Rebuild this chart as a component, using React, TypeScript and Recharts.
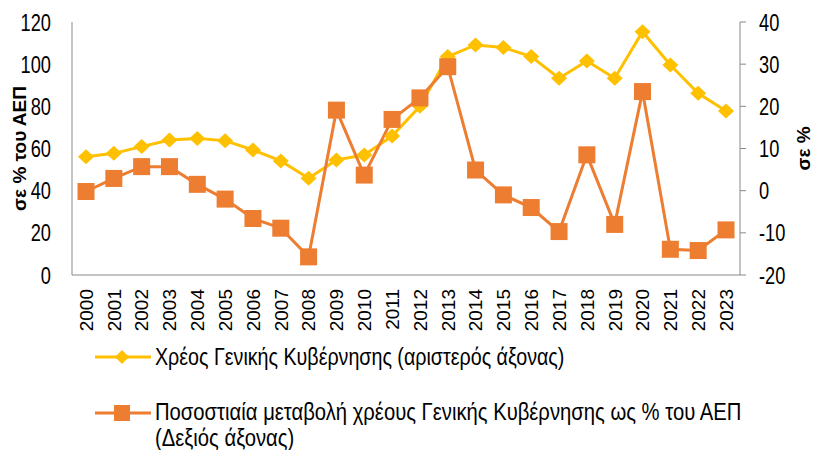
import * as React from "react"
import {
  LineChart,
  Line,
  XAxis,
  YAxis,
  Legend,
} from "recharts"

const years = [
  "2000", "2001", "2002", "2003", "2004", "2005", "2006", "2007",
  "2008", "2009", "2010", "2011", "2012", "2013", "2014", "2015",
  "2016", "2017", "2018", "2019", "2020", "2021", "2022", "2023",
]

// debt, % of GDP (left axis)
const debtRatio = [
  56.1, 57.7, 60.9, 64.0, 64.8, 63.7, 59.3, 54.1,
  45.9, 54.6, 56.9, 65.9, 80.0, 103.6, 109.1, 107.9,
  103.6, 93.3, 101.5, 93.3, 115.4, 99.6, 86.2, 77.8,
]

// % change of debt ratio (right axis)
const debtChange = [
  -0.2, 2.9, 5.7, 5.7, 1.5, -2.0, -6.6, -8.9,
  -15.7, 19.1, 3.7, 16.9, 22.0, 29.4, 4.9, -1.0,
  -4.0, -9.7, 8.5, -8.0, 23.5, -13.9, -14.2, -9.3,
]

const leftTicks = [0, 20, 40, 60, 80, 100, 120]
const rightTicks = [-20, -10, 0, 10, 20, 30, 40]

const seriesNames = [
  "Χρέος Γενικής Κυβέρνησης (αριστερός άξονας)",
  "Ποσοστιαία μεταβολή χρέους Γενικής Κυβέρνησης ως % του ΑΕΠ",
  "(Δεξιός άξονας)",
]

const YELLOW = "#FFC000"
const ORANGE = "#ED7D31"
const AXIS = "#898989"
const ARIAL = "'Liberation Sans', Arial, sans-serif"
// the original uses a condensed face; squeeze regular Arial to match
const SQUEEZE = 0.76

const data = years.map((year, i) => ({
  year,
  debt: debtRatio[i],
  change: debtChange[i],
}))

const Diamond = (props: any) => {
  const { cx, cy } = props
  if (cx == null || cy == null) return null
  const w = 8
  const h = 7.5
  return (
    <polygon
      points={`${cx},${cy - h} ${cx + w},${cy} ${cx},${cy + h} ${cx - w},${cy}`}
      fill={YELLOW}
    />
  )
}

const Square = (props: any) => {
  const { cx, cy } = props
  if (cx == null || cy == null) return null
  const s = 8.5
  return <rect x={cx - s} y={cy - s} width={s * 2} height={s * 2} fill={ORANGE} />
}

const YearTick = (props: any) => {
  const { x, y, payload } = props
  const ty = y + 6
  return (
    <text
      x={x}
      y={ty}
      dy="0.36em"
      transform={`rotate(-90, ${x}, ${ty})`}
      textAnchor="end"
      fontFamily={ARIAL}
      fontSize={19}
      fill="#000"
    >
      {payload.value}
    </text>
  )
}

const ValueTick = (props: any) => {
  const { x, y, payload, textAnchor } = props
  return (
    <text
      transform={`translate(${x}, ${y}) scale(${SQUEEZE}, 1)`}
      dy="0.36em"
      textAnchor={textAnchor}
      fontFamily={ARIAL}
      fontSize={24}
      fill="#000"
    >
      {payload.value}
    </text>
  )
}

const LeftTitle = (props: any) => {
  const { viewBox } = props
  const cx = viewBox.x - 3
  const cy = viewBox.y + viewBox.height / 2
  return (
    <text
      x={cx}
      y={cy}
      transform={`rotate(-90, ${cx}, ${cy})`}
      textAnchor="middle"
      dy="0.36em"
      fontFamily={ARIAL}
      fontWeight="bold"
      fontSize={19}
      fill="#000"
    >
      σε % του ΑΕΠ
    </text>
  )
}

const RightTitle = (props: any) => {
  const { viewBox } = props
  const cx = viewBox.x + viewBox.width + 13
  const cy = viewBox.y + viewBox.height / 2
  return (
    <text
      x={cx}
      y={cy}
      transform={`rotate(-90, ${cx}, ${cy})`}
      textAnchor="middle"
      dy="0.36em"
      fontFamily={ARIAL}
      fontWeight="bold"
      fontSize={19}
      fill="#000"
    >
      σε %
    </text>
  )
}

const LegendIcon = ({ color, square }: { color: string; square?: boolean }) => (
  <svg width={56} height={20} style={{ flex: "none" }}>
    <line x1={0} y1={10} x2={56} y2={10} stroke={color} strokeWidth={3} />
    {square ? (
      <rect x={19} y={2} width={16} height={16} fill={color} />
    ) : (
      <polygon points="27,3 34,10 27,17 20,10" fill={color} />
    )}
  </svg>
)

const squeezed = (k: number): React.CSSProperties => ({
  marginLeft: 4,
  transform: `scaleX(${k})`,
  transformOrigin: "left center",
  whiteSpace: "nowrap",
})

const renderLegend = () => (
  <div style={{ fontFamily: ARIAL, fontSize: 23, color: "#000", lineHeight: "26px" }}>
    <div style={{ display: "flex", alignItems: "center", height: 26 }}>
      <LegendIcon color={YELLOW} />
      <span style={squeezed(0.855)}>{seriesNames[0]}</span>
    </div>
    <div style={{ display: "flex", alignItems: "flex-start", marginTop: 29 }}>
      <div style={{ marginTop: 3 }}>
        <LegendIcon color={ORANGE} square />
      </div>
      <div style={squeezed(0.88)}>
        <div>{seriesNames[1]}</div>
        <div>{seriesNames[2]}</div>
      </div>
    </div>
  </div>
)

export default function App() {
  return (
    <div style={{ position: "absolute", left: 0, top: 0, width: 813, height: 450, background: "#fff" }}>
      <LineChart
        width={813}
        height={450}
        data={data}
        margin={{ top: 22, right: 23, bottom: 0, left: 22 }}
      >
        <XAxis
          dataKey="year"
          height={175}
          padding={{ left: 14, right: 14 }}
          interval={0}
          stroke={AXIS}
          tickLine={false}
          tick={<YearTick />}
        />
        <YAxis
          yAxisId="left"
          width={50}
          domain={[0, 120]}
          ticks={leftTicks}
          interval={0}
          stroke={AXIS}
          tickLine={false}
          tickSize={0}
          tickMargin={21}
          tick={<ValueTick />}
          label={<LeftTitle />}
        />
        <YAxis
          yAxisId="right"
          orientation="right"
          width={50}
          domain={[-20, 40]}
          ticks={rightTicks}
          interval={0}
          stroke={AXIS}
          tickSize={6}
          tickMargin={13}
          tick={<ValueTick />}
          label={<RightTitle />}
        />
        <Legend
          layout="vertical"
          align="center"
          verticalAlign="middle"
          content={renderLegend}
          wrapperStyle={{ left: 95, top: 344, width: 700 }}
        />
        <Line
          yAxisId="left"
          dataKey="debt"
          stroke={YELLOW}
          strokeWidth={3}
          dot={<Diamond />}
          activeDot={false}
          isAnimationActive={false}
        />
        <Line
          yAxisId="right"
          dataKey="change"
          stroke={ORANGE}
          strokeWidth={3}
          dot={<Square />}
          activeDot={false}
          isAnimationActive={false}
        />
      </LineChart>
    </div>
  )
}
